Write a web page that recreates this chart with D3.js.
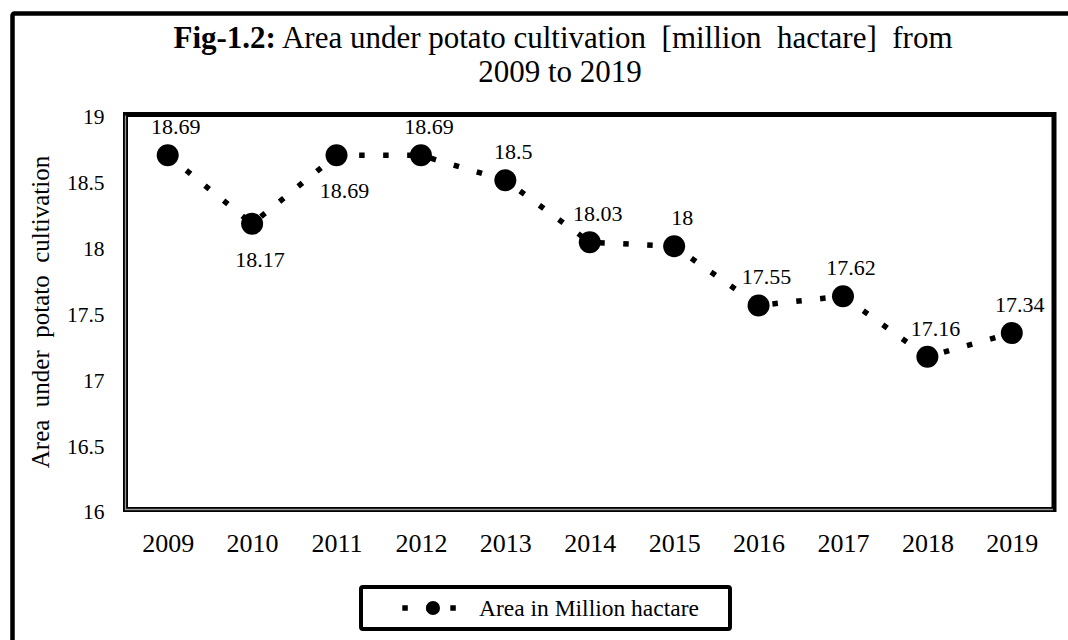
<!DOCTYPE html>
<html>
<head>
<meta charset="utf-8">
<script src="https://cdn.jsdelivr.net/npm/d3@7"></script>
<style>
	body { margin: 0; background: #fff; }
	text { font-family: "Liberation Serif", "Times New Roman", serif; fill: #000; }
</style>
</head>
<body>
<svg id="chart"></svg>
<script>
// values
const years = ["2009", "2010", "2011", "2012", "2013", "2014", "2015", "2016", "2017", "2018", "2019"];
const areas = [18.69, 18.17, 18.69, 18.69, 18.5, 18.03, 18, 17.55, 17.62, 17.16, 17.34];
const labelSide = ["above", "below", "below", "above", "above", "above", "above", "above", "above", "above", "above"];
const yTicks = [16, 16.5, 17, 17.5, 18, 18.5, 19];
const seriesName = "Area in Million hactare";
const titleBold = "Fig-1.2:";
const titleLine1 = " Area under potato cultivation  [million  hactare]  from";
const titleLine2 = "2009 to 2019";
const yTitle = "Area  under  potato  cultivation";

const width = 1068, height = 640;
const plot = {left: 125.5, top: 114.5, right: 1054, bottom: 509.5};

const svg = d3.select('#chart')
	.attr('width', width)
	.attr('height', height);

// outer frame (runs off the right and bottom edge)
svg.append('rect')
	.attr('x', 12.5).attr('y', 13.5)
	.attr('width', 1100).attr('height', 700)
	.attr('rx', 2)
	.attr('fill', '#fff')
	.attr('stroke', '#000')
	.attr('stroke-width', 4.5);

// title
const title = svg.append('text')
	.attr('x', 563).attr('y', 48)
	.attr('text-anchor', 'middle')
	.style('font-size', '31px');
title.append('tspan').style('font-weight', 'bold').text(titleBold);
title.append('tspan').attr('xml:space', 'preserve').style('white-space', 'pre').text(titleLine1);

svg.append('text')
	.attr('x', 560).attr('y', 82)
	.attr('text-anchor', 'middle')
	.style('font-size', '31px')
	.text(titleLine2);

const x = d3.scalePoint()
	.domain(years)
	.range([plot.left, plot.right])
	.padding(0.5);

const y = d3.scaleLinear()
	.domain([16, 19])
	.range([plot.bottom, plot.top]);

// y axis
const yAxis = svg.append('g')
	.attr('transform', `translate(${plot.left},0)`)
	.call(d3.axisLeft(y).tickValues(yTicks).tickSize(0).tickPadding(21).tickFormat(d => String(d)));
yAxis.select('.domain').remove();
yAxis.selectAll('text')
	.attr('dy', '0.44em')
	.style('font-size', '21.5px')
	.style('font-family', '"Liberation Serif", serif');

// x axis
const xAxis = svg.append('g')
	.attr('transform', `translate(0,${plot.bottom})`)
	.call(d3.axisBottom(x).tickSize(0));
xAxis.select('.domain').remove();
xAxis.selectAll('text')
	.attr('y', 42.5)
	.attr('dy', 0)
	.style('font-size', '26px')
	.style('font-family', '"Liberation Serif", serif');

// y axis title
svg.append('text')
	.attr('transform', `translate(49,${(plot.top + plot.bottom) / 2}) rotate(-90)`)
	.attr('text-anchor', 'middle')
	.style('font-size', '25px')
	.style('white-space', 'pre')
	.text(yTitle);

// plot border, double line on the left and bottom
svg.append('rect')
	.attr('x', plot.left).attr('y', plot.top)
	.attr('width', plot.right - plot.left)
	.attr('height', plot.bottom - plot.top)
	.attr('fill', 'none')
	.attr('stroke', '#000')
	.attr('stroke-width', 5);
svg.append('path')
	.attr('d', `M${plot.left},${plot.top + 1}V${plot.bottom}H${plot.right - 1}`)
	.attr('fill', 'none')
	.attr('stroke', '#999')
	.attr('stroke-width', 1.3);

const data = years.map((yr, i) => ({year: yr, value: areas[i], side: labelSide[i]}));

const line = d3.line()
	.x(d => x(d.year))
	.y(d => y(d.value));

svg.append('path')
	.datum(data)
	.attr('d', line)
	.attr('fill', 'none')
	.attr('stroke', '#000')
	.attr('stroke-width', 5.5)
	.attr('stroke-dasharray', '5.5 18.5');

svg.append('g').selectAll('circle')
	.data(data)
	.enter().append('circle')
	.attr('cx', d => x(d.year))
	.attr('cy', d => y(d.value))
	.attr('r', 11)
	.attr('fill', '#000');

svg.append('g').selectAll('text')
	.data(data)
	.enter().append('text')
	.attr('x', d => x(d.year) + 8)
	.attr('y', d => y(d.value) + (d.side === 'above' ? -21 : 43))
	.attr('text-anchor', 'middle')
	.style('font-size', '22px')
	.text(d => String(d.value));

// legend
const legend = svg.append('g');
legend.append('rect')
	.attr('x', 361).attr('y', 587)
	.attr('width', 369).attr('height', 42)
	.attr('rx', 2)
	.attr('fill', '#fff')
	.attr('stroke', '#000')
	.attr('stroke-width', 4);
legend.append('line')
	.attr('x1', 402.3).attr('x2', 460)
	.attr('y1', 608).attr('y2', 608)
	.attr('stroke', '#000')
	.attr('stroke-width', 5.5)
	.attr('stroke-dasharray', '5.5 18.5');
legend.append('circle')
	.attr('cx', 433).attr('cy', 608)
	.attr('r', 7)
	.attr('fill', '#000');
legend.append('text')
	.attr('x', 479).attr('y', 616)
	.style('font-size', '23.5px')
	.text(seriesName);
</script>
</body>
</html>
